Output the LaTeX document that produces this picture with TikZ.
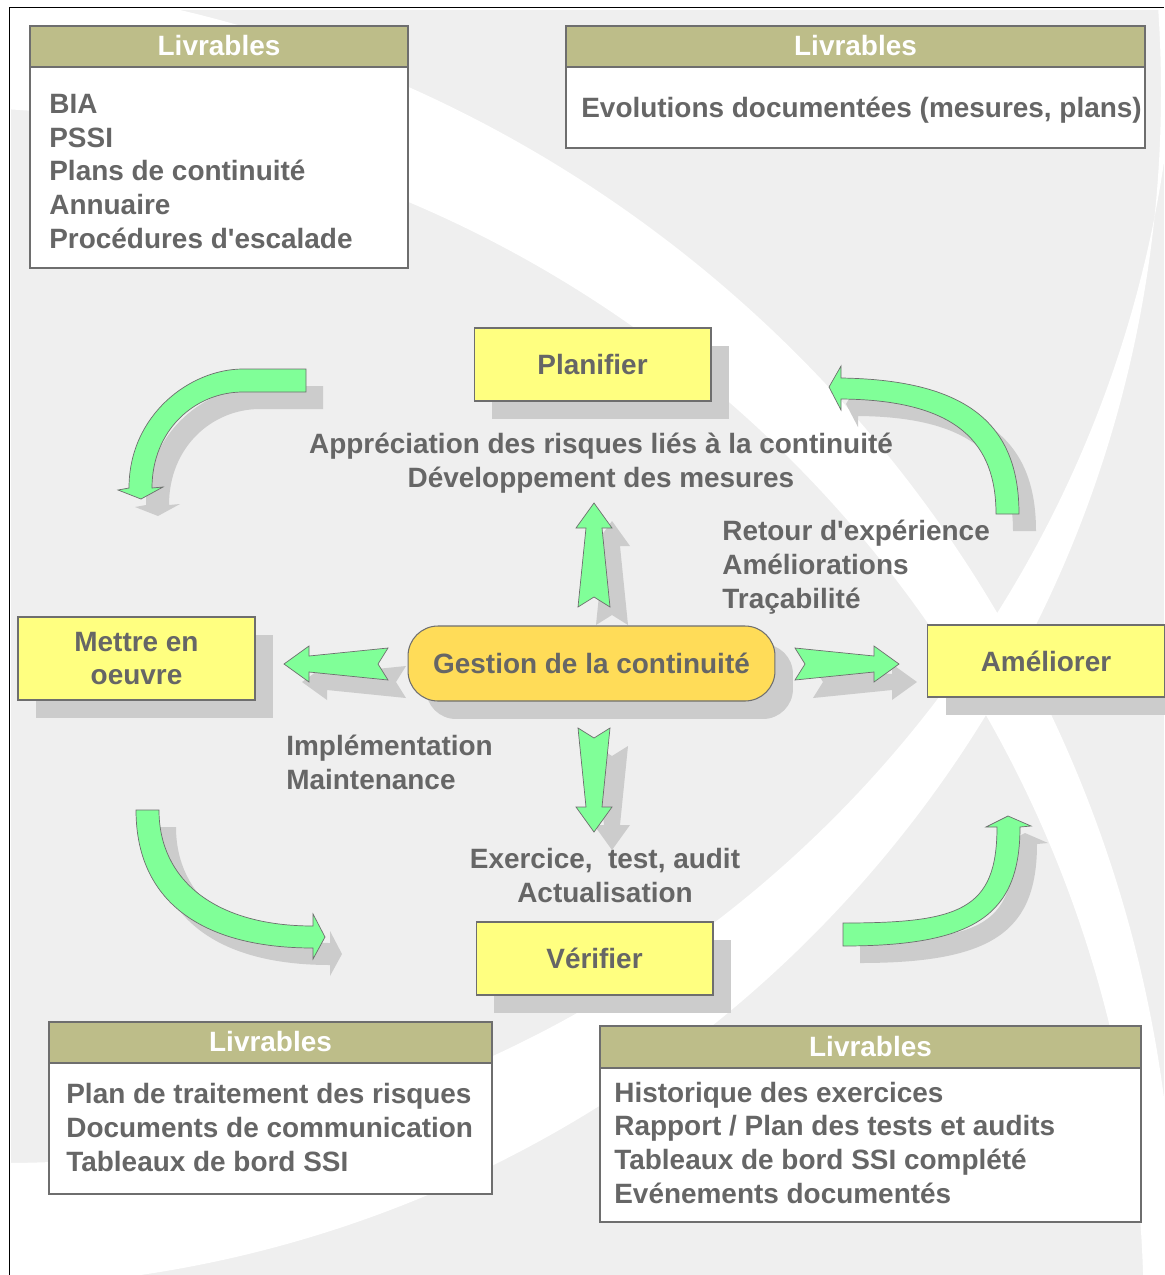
\documentclass[tikz,border=0pt]{standalone}
\usepackage{fontspec}
\setmainfont{Liberation Sans}
\usetikzlibrary{calc}
\usetikzlibrary{shadows}

\definecolor{bggrey}{HTML}{EFEFEF}
\definecolor{shgrey}{HTML}{CCCCCC}
\definecolor{edgegrey}{HTML}{6E6E6E}
\definecolor{txtgrey}{HTML}{666666}
\definecolor{phaseyellow}{HTML}{FFFF80}
\definecolor{coreyellow}{HTML}{FFDC58}
\definecolor{arrowgreen}{HTML}{80FF98}
\definecolor{livolive}{HTML}{BDBD89}

\tikzset{
  txt/.style={font=\bfseries\fontsize{15.9}{19.1}\selectfont, text=txtgrey, inner sep=0pt},
  livtitle/.style={txt, text=white},
  livframe/.style={draw=edgegrey, line width=0.6pt, fill=white},
  phasebox/.style={txt, draw=edgegrey, line width=0.6pt, fill=phaseyellow, align=center,
    minimum width=4.74cm, minimum height=1.46cm,
    drop shadow={shadow xshift=0.36cm, shadow yshift=-0.36cm, opacity=1, fill=shgrey}},
  corebox/.style={phasebox, fill=coreyellow, rounded corners=0.6cm,
    minimum width=7.34cm, minimum height=1.5cm},
  bigarrow/.style={draw=edgegrey, line width=0.4pt, fill=arrowgreen},
  arrowshadow/.style={fill=shgrey},
}

% straight notched arrow: tail coordinate, direction
\newcommand{\flecheBloc}[2]{%
  \fill [arrowshadow, shift={(#1)}, shift={(18,-18)}, rotate=#2]
    (0,16) -- (10,0) -- (0,-16) -- (79,-8) -- (79,-18) -- (104,0) -- (79,18) -- (79,8) -- cycle;
  \filldraw [bigarrow, shift={(#1)}, rotate=#2]
    (0,16) -- (10,0) -- (0,-16) -- (79,-8) -- (79,-18) -- (104,0) -- (79,18) -- (79,8) -- cycle;
}

% curved arrows
\def\arcNO{(306,-369) -- (243,-369) .. controls (190,-369) and (129,-415) .. (129,-488)
  -- (118,-490) -- (141,-499) -- (163,-487) -- (152,-488)
  .. controls (152,-430) and (195,-392) .. (243,-392) -- (306,-392) -- cycle}
\def\arcNE{(1019,-514) .. controls (1019,-430) and (975,-380) .. (841,-378)
  -- (841,-366) -- (829,-387) -- (841,-410) -- (841,-399)
  .. controls (960,-400) and (996,-445) .. (996,-514) -- cycle}
\def\arcSO{(136,-810) .. controls (136,-900) and (200,-948) .. (313,-948)
  -- (313,-959) -- (325,-937) -- (313,-914) -- (313,-926)
  .. controls (215,-926) and (159,-880) .. (159,-810) -- cycle}
\def\arcSE{(843,-923) .. controls (960,-923) and (997,-910) .. (997,-827)
  -- (986,-827) -- (1008,-816) -- (1031,-826) -- (1020,-827)
  .. controls (1020,-915) and (975,-946) .. (843,-946) -- cycle}

\begin{document}
\begin{tikzpicture}[x=0.02cm, y=0.02cm]

    \useasboundingbox (0,0) rectangle (1164,-1275);

    %%%%%%%%%%%%%%%%%%%%%%%%%%
    % Background
    %%%%%%%%%%%%%%%%%%%%%%%%%%
    \fill [bggrey] (11,-10) rectangle (1164,-1275);
    % white swooshes
    \fill [white, even odd rule] (-116.5,-1267.3) circle [radius=1291.5] (-60,-1311) circle [radius=1203.6];
    \fill [white, even odd rule] (2.4,11.3) circle [radius=1174.3] (-35,-91.8) circle [radius=1196];

    %%%%%%%%%%%%%%%%%%%%%%%%%%
    % Livrables
    %%%%%%%%%%%%%%%%%%%%%%%%%%
    % top left
    \draw [livframe] (30,-26) rectangle (408,-268);
    \filldraw [livolive, draw=edgegrey, line width=0.6pt] (30,-26) rectangle (408,-67);
    \node [livtitle] (livA) at (219,-46) {Livrables};
    \node [txt, align=left, anchor=base west] (livAitems) at (49,-248)
      {BIA\\PSSI\\Plans de continuité\\Annuaire\\Procédures d\textquotesingle escalade};

    % top right
    \draw [livframe] (566,-26) rectangle (1145,-148);
    \filldraw [livolive, draw=edgegrey, line width=0.6pt] (566,-26) rectangle (1145,-67);
    \node [livtitle] (livB) at (855.5,-46) {Livrables};
    \node [txt, anchor=base west] (livBitems) at (581,-117) {Evolutions documentées (mesures, plans)};

    % bottom left
    \draw [livframe] (49,-1022) rectangle (492,-1194);
    \filldraw [livolive, draw=edgegrey, line width=0.6pt] (49,-1022) rectangle (492,-1063);
    \node [livtitle] (livC) at (270.5,-1042) {Livrables};
    \node [txt, align=left, anchor=base west] (livCitems) at (66,-1171)
      {Plan de traitement des risques\\Documents de communication\\Tableaux de bord SSI};

    % bottom right
    \draw [livframe] (600,-1026) rectangle (1141,-1222);
    \filldraw [livolive, draw=edgegrey, line width=0.6pt] (600,-1026) rectangle (1141,-1068);
    \node [livtitle] (livD) at (870.5,-1047) {Livrables};
    \node [txt, align=left, anchor=base west] (livDitems) at (614,-1203)
      {Historique des exercices\\Rapport / Plan des tests et audits\\Tableaux de bord SSI complété\\Evénements documentés};

    %%%%%%%%%%%%%%%%%%%%%%%%%%
    % Cycle arrows
    %%%%%%%%%%%%%%%%%%%%%%%%%%
    \fill [arrowshadow, shift={(17,-17)}] \arcNO;
    \filldraw [bigarrow] \arcNO;
    \fill [arrowshadow, shift={(17,-17)}] \arcNE;
    \filldraw [bigarrow] \arcNE;
    \fill [arrowshadow, shift={(17,-17)}] \arcSO;
    \filldraw [bigarrow] \arcSO;
    \fill [arrowshadow, shift={(17,-17)}] \arcSE;
    \filldraw [bigarrow] \arcSE;

    % arrows out of the centre
    \coordinate (upT) at (594,-607);
    \coordinate (downT) at (594,-728);
    \coordinate (leftT) at (388,-664);
    \coordinate (rightT) at (795,-664);
    \flecheBloc{upT}{90}
    \flecheBloc{downT}{-90}
    \flecheBloc{leftT}{180}
    \flecheBloc{rightT}{0}

    %%%%%%%%%%%%%%%%%%%%%%%%%%
    % Phases
    %%%%%%%%%%%%%%%%%%%%%%%%%%
    \node [phasebox] (planifier) at (592.5,-364.5) {Planifier};
    \node [phasebox, minimum height=1.66cm] (mettre) at (136.5,-658.5) {Mettre en\\oeuvre};
    \node [phasebox, minimum height=1.44cm] (ameliorer) at (1046,-661) {Améliorer};
    \node [phasebox] (verifier) at (594.5,-958.5) {Vérifier};
    \node [corebox] (gestion) at (591.5,-663.5) {Gestion de la continuité};

    % labels
    \node [txt, align=center, anchor=base] (apprec) at (601,-487)
      {Appréciation des risques liés à la continuité\\Développement des mesures};
    \node [txt, align=left, anchor=base west] (retour) at (722,-608)
      {Retour d\textquotesingle expérience\\Améliorations\\Traçabilité};
    \node [txt, align=left, anchor=base west] (implem) at (286,-789)
      {Implémentation\\Maintenance};
    \node [txt, align=center, anchor=base] (exercice) at (605,-902)
      {Exercice,\ \ test, audit\\Actualisation};

    % frame
    \draw [black, line width=0.6pt] (9.5,-1275) -- (9.5,-7.5) -- (1164,-7.5);

\end{tikzpicture}
\end{document}
